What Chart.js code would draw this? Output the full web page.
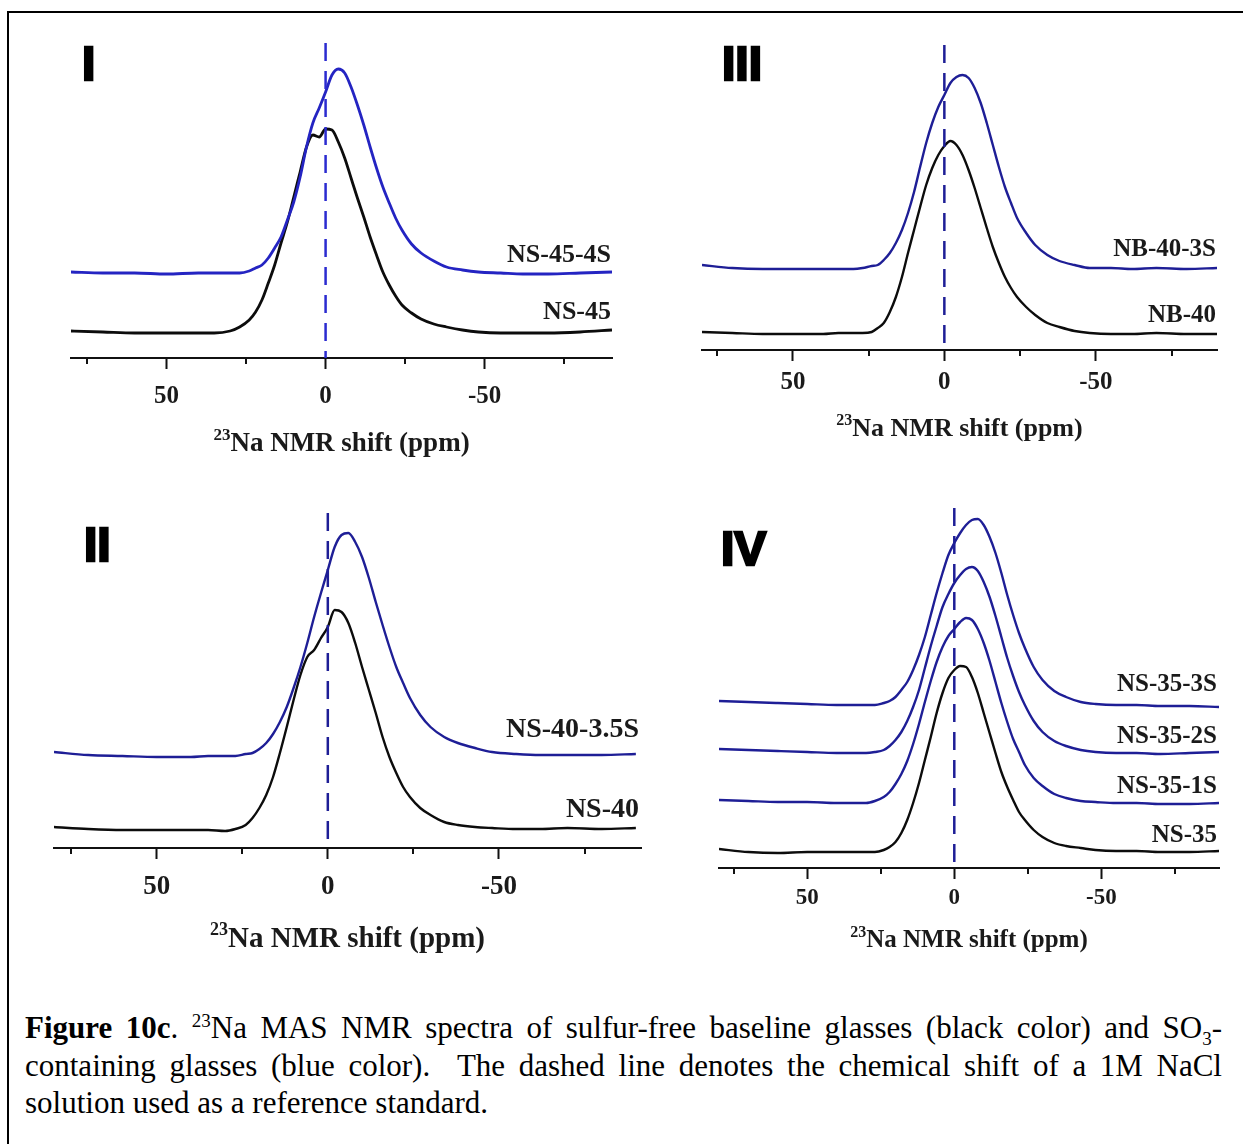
<!DOCTYPE html>
<html lang="en">
<head>
<meta charset="UTF-8">
<title>23Na MAS NMR spectra</title>
<script src="https://cdn.jsdelivr.net/npm/chart.js"></script>
<style>
    html, body { margin: 0; padding: 0; background: #fff; }
    body { width: 1243px; height: 1144px; position: relative; overflow: hidden; }
    .frame { position: absolute; left: 7px; top: 11px; width: 1240px; height: 1140px; border-top: 2px solid #000; border-left: 2px solid #000; }
    canvas { position: absolute; }
    .caption { position: absolute; left: 25px; width: 1197px; top: 1009px; font-family: 'Liberation Serif', 'Times New Roman', serif; font-size: 31px; line-height: 37.5px; color: #000; }
    .caption div { text-align: justify; text-align-last: justify; }
    .caption div.last { text-align-last: left; }
    .caption sup, .caption sub { font-size: 19px; line-height: 0; }
</style>
</head>
<body>
<div class="frame"></div>
<canvas id="panel1"></canvas>
<canvas id="panel3"></canvas>
<canvas id="panel2"></canvas>
<canvas id="panel4"></canvas>
<div class="caption">
    <div><b>Figure 10c</b>. <sup>23</sup>Na MAS NMR spectra of sulfur-free baseline glasses (black color) and SO<sub>3</sub>-</div>
    <div>containing glasses (blue color).&nbsp; The dashed line denotes the chemical shift of a 1M NaCl</div>
    <div class="last">solution used as a reference standard.</div>
</div>

<script>
    // chemical shift grid (ppm) shared by every spectrum
    const ppm = [80, 70, 60, 50, 40, 35, 30, 27, 24, 22, 20, 18, 16, 14, 12, 10, 8, 6, 4, 2, 0,
        -2, -4, -6, -8, -10, -12, -14, -16, -18, -20, -22, -24, -27, -30, -34, -38, -43, -48, -55, -62, -70, -80, -90];

    const tickValues = [75, 50, 25, 0, -25, -50, -75];
    const labelledTicks = [50, 0, -50];
    const axisTitle = 'Na NMR shift (ppm)';
    const isotope = '23';

    // panel I (stacked intensity, a.u.)
    const ns45_4s = [86, 85, 85, 84, 85, 85, 85, 85, 87, 90, 93, 100, 110, 121, 138, 156, 181, 211, 235, 250, 266,
        283, 289, 285, 271, 253, 233, 211, 190, 171, 155, 140, 128, 114, 105, 97, 91, 88, 86, 85, 84, 84, 85, 86];
    const ns45 = [27, 26, 25, 25, 25, 25, 27, 31, 38, 46, 58, 75, 93, 115, 136, 161, 186, 211, 223, 221, 229,
        228, 216, 200, 180, 160, 141, 121, 103, 86, 73, 62, 53, 45, 39, 34, 31, 28, 26, 25, 25, 25, 26, 28];

    // panel III
    const nb40_3s = [85, 82, 81, 81, 81, 81, 81, 82, 84, 85, 90, 97, 107, 120, 137, 158, 183, 207, 227, 243, 255,
        267, 273, 275, 272, 262, 247, 227, 205, 183, 163, 147, 132, 117, 105, 95, 89, 85, 82, 82, 81, 82, 81, 82];
    const nb40 = [18, 17, 16, 16, 16, 17, 17, 17, 18, 22, 27, 38, 53, 73, 97, 120, 143, 165, 182, 195, 204,
        209, 205, 195, 180, 162, 142, 122, 103, 87, 73, 62, 53, 43, 35, 27, 23, 19, 17, 16, 16, 17, 16, 16];

    // panel II
    const ns40_35s = [96, 93, 92, 91, 91, 92, 92, 92, 94, 95, 99, 105, 114, 126, 141, 160, 181, 205, 231, 255, 278,
        301, 313, 315, 306, 291, 270, 246, 223, 201, 181, 165, 150, 133, 121, 111, 105, 100, 96, 94, 93, 93, 93, 94];
    const ns40 = [21, 19, 18, 18, 18, 18, 17, 19, 23, 30, 40, 53, 71, 95, 121, 148, 173, 191, 198, 210, 221,
        238, 236, 225, 205, 181, 158, 135, 111, 91, 75, 61, 51, 40, 33, 26, 23, 21, 20, 19, 19, 20, 19, 20];

    // panel IV
    const ns35_3s = [167, 166, 165, 164, 163, 163, 163, 163, 165, 167, 171, 178, 186, 198, 213, 231, 253, 275, 295, 313, 325,
        335, 343, 348, 349, 343, 331, 315, 295, 273, 253, 235, 220, 201, 188, 177, 171, 166, 164, 163, 163, 162, 162, 161];
    const ns35_2s = [119, 118, 117, 116, 115, 115, 115, 116, 118, 122, 128, 136, 147, 161, 178, 200, 222, 242, 261, 274, 285,
        293, 299, 301, 297, 286, 271, 252, 231, 210, 192, 176, 163, 147, 136, 127, 122, 118, 116, 115, 115, 114, 115, 116];
    const ns35_1s = [68, 67, 66, 66, 65, 65, 65, 67, 71, 76, 84, 94, 107, 124, 144, 166, 187, 206, 221, 232, 239,
        246, 250, 248, 239, 225, 207, 186, 165, 146, 129, 116, 103, 90, 82, 74, 70, 67, 66, 65, 65, 64, 64, 65];
    const ns35 = [19, 16, 15, 16, 16, 16, 16, 16, 18, 21, 26, 35, 48, 65, 85, 108, 131, 155, 175, 190, 198,
        202, 201, 191, 175, 155, 135, 115, 96, 81, 68, 56, 48, 38, 31, 25, 22, 20, 18, 17, 17, 16, 16, 17];

    const serif = "'Liberation Serif', 'Times New Roman', serif";
    const sans = "'Liberation Sans', Arial, sans-serif";
    const ink = '#1a1a1a';
    const black = '#0c0c0c';
    const navy = '#1e1e96';

    // page geometry of each panel (px)
    const panels = [
        {
            id: 'panel1', numeral: 'I', numX: 82, numBase: 80,
            box: [20, 20, 620, 460], axisLeft: 71, axisRight: 612, axisY: 358, top: 30, xMin: -90,
            tickSize: 25, tickPad: 13, titleSize: 27, titleBase: 451, labelSize: 26, labelRight: 611,
            refTop: 315, dash: '#2b2bd0', lineWidth: 2.8,
            series: [
                { name: 'NS-45-4S', values: ns45_4s, color: '#2424c2', labelY: 255 },
                { name: 'NS-45', values: ns45, color: black, labelY: 312 }
            ]
        },
        {
            id: 'panel3', numeral: 'III', numX: 722, numBase: 80,
            box: [660, 20, 583, 440], axisLeft: 702, axisRight: 1217, axisY: 350, top: 30, xMin: -90,
            tickSize: 25, tickPad: 7, titleSize: 26, titleBase: 436, labelSize: 25, labelRight: 1216,
            refTop: 305, dash: navy, lineWidth: 2.4,
            series: [
                { name: 'NB-40-3S', values: nb40_3s, color: navy, labelY: 250 },
                { name: 'NB-40', values: nb40, color: black, labelY: 316 }
            ]
        },
        {
            id: 'panel2', numeral: 'II', numX: 84, numBase: 561,
            box: [20, 490, 625, 470], axisLeft: 54, axisRight: 641, axisY: 848, top: 500, xMin: -91.5,
            tickSize: 27, tickPad: 12, titleSize: 29, titleBase: 947, labelSize: 28, labelRight: 639,
            refTop: 335, dash: navy, lineWidth: 2.4,
            series: [
                { name: 'NS-40-3.5S', values: ns40_35s, color: navy, labelY: 730 },
                { name: 'NS-40', values: ns40, color: black, labelY: 810 }
            ]
        },
        {
            id: 'panel4', numeral: 'IV', numX: 721, numBase: 565,
            box: [660, 490, 583, 470], axisLeft: 719, axisRight: 1219, axisY: 868, top: 500, xMin: -90,
            tickSize: 23, tickPad: 5, titleSize: 25, titleBase: 947, labelSize: 25, labelRight: 1217,
            refTop: 360, dash: navy, lineWidth: 2.4,
            series: [
                { name: 'NS-35-3S', values: ns35_3s, color: navy, labelY: 685 },
                { name: 'NS-35-2S', values: ns35_2s, color: navy, labelY: 737 },
                { name: 'NS-35-1S', values: ns35_1s, color: navy, labelY: 787 },
                { name: 'NS-35', values: ns35, color: black, labelY: 836 }
            ]
        }
    ];

    const X_SCALE_HEIGHT = 90;

    // minor ticks, axis title, curve names and panel numeral
    function decorations(p) {
        return {
            id: 'decorations',
            afterDraw(chart) {
                const ctx = chart.ctx;
                const xs = chart.scales.x;
                const area = chart.chartArea;
                const ox = p.box[0], oy = p.box[1];
                ctx.save();

                ctx.strokeStyle = '#111';
                ctx.lineWidth = 2;
                tickValues.filter(v => !labelledTicks.includes(v)).forEach(v => {
                    const px = Math.round(xs.getPixelForValue(v));
                    ctx.beginPath();
                    ctx.moveTo(px, area.bottom);
                    ctx.lineTo(px, area.bottom + 6);
                    ctx.stroke();
                });

                ctx.fillStyle = ink;
                ctx.textAlign = 'left';
                ctx.textBaseline = 'alphabetic';
                const mainFont = 'bold ' + p.titleSize + 'px ' + serif;
                const supFont = 'bold ' + Math.round(p.titleSize * 0.62) + 'px ' + serif;
                ctx.font = mainFont;
                const mainW = ctx.measureText(axisTitle).width;
                ctx.font = supFont;
                const supW = ctx.measureText(isotope).width;
                const start = (area.left + area.right) / 2 - (mainW + supW) / 2;
                const base = p.titleBase - oy;
                ctx.fillText(isotope, start, base - p.titleSize * 0.42);
                ctx.font = mainFont;
                ctx.fillText(axisTitle, start + supW, base);

                ctx.font = 'bold ' + p.labelSize + 'px ' + serif;
                ctx.textAlign = 'right';
                ctx.textBaseline = 'middle';
                p.series.forEach(s => ctx.fillText(s.name, p.labelRight - ox, s.labelY - oy));

                // heavy sans numeral, thickened with a stroke
                ctx.fillStyle = '#000';
                ctx.strokeStyle = '#000';
                ctx.lineWidth = 2.5;
                ctx.lineJoin = 'miter';
                ctx.font = 'bold 48px ' + sans;
                ctx.textAlign = 'left';
                ctx.textBaseline = 'alphabetic';
                ctx.fillText(p.numeral, p.numX - ox, p.numBase - oy);
                ctx.strokeText(p.numeral, p.numX - ox, p.numBase - oy);

                ctx.restore();
            }
        };
    }

    function makePanel(p) {
        const canvas = document.getElementById(p.id);
        canvas.width = p.box[2];
        canvas.height = p.box[3];
        canvas.style.left = p.box[0] + 'px';
        canvas.style.top = p.box[1] + 'px';

        const datasets = [{
            data: [{ x: 0, y: p.refTop }, { x: 0, y: 0 }],
            borderColor: p.dash,
            borderWidth: 2.5,
            borderDash: [18, 10],
            borderCapStyle: 'butt',
            pointRadius: 0,
            tension: 0
        }];
        p.series.forEach(s => {
            datasets.push({
                label: s.name,
                data: ppm.map((v, i) => ({ x: v, y: s.values[i] })),
                borderColor: s.color,
                borderWidth: p.lineWidth,
                borderJoinStyle: 'round',
                pointRadius: 0,
                cubicInterpolationMode: 'monotone',
                fill: false
            });
        });

        new Chart(canvas, {
            type: 'line',
            data: { datasets: datasets },
            options: {
                responsive: false,
                animation: false,
                events: [],
                layout: {
                    padding: {
                        left: p.axisLeft - p.box[0],
                        right: p.box[0] + p.box[2] - p.axisRight,
                        top: p.top - p.box[1],
                        bottom: p.box[1] + p.box[3] - p.axisY - X_SCALE_HEIGHT
                    }
                },
                plugins: {
                    legend: { display: false },
                    tooltip: { enabled: false }
                },
                scales: {
                    x: {
                        type: 'linear',
                        reverse: true,
                        min: p.xMin,
                        max: 80,
                        afterBuildTicks: scale => {
                            scale.ticks = tickValues.map(v => ({ value: v }));
                        },
                        afterFit: scale => {
                            scale.height = X_SCALE_HEIGHT;
                        },
                        ticks: {
                            autoSkip: false,
                            maxRotation: 0,
                            padding: p.tickPad,
                            color: ink,
                            font: { family: serif, size: p.tickSize, weight: 'bold' },
                            callback: v => labelledTicks.includes(v) ? String(v) : ''
                        },
                        grid: {
                            drawOnChartArea: false,
                            drawTicks: true,
                            tickLength: 11,
                            tickWidth: 2,
                            tickColor: c => labelledTicks.includes(c.tick && c.tick.value) ? '#111' : 'rgba(0,0,0,0)'
                        },
                        border: { display: true, color: '#111', width: 2 }
                    },
                    y: {
                        display: false,
                        min: 0,
                        max: p.axisY - p.top
                    }
                }
            },
            plugins: [decorations(p)]
        });
    }

    panels.forEach(makePanel);
</script>
</body>
</html>
